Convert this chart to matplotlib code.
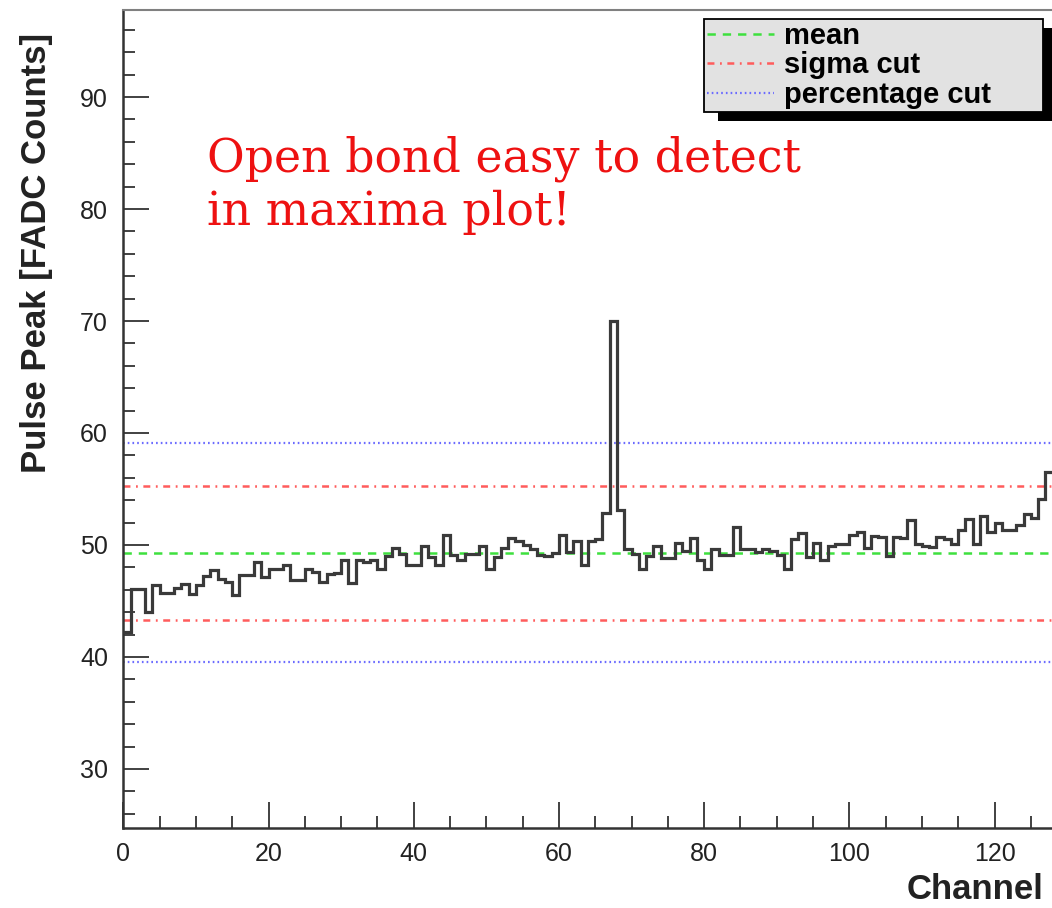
import numpy as np
import matplotlib
matplotlib.use('Agg')
import matplotlib.pyplot as plt
from matplotlib.patches import Rectangle
from matplotlib.ticker import MultipleLocator

plt.rcParams['font.family'] = ['Liberation Sans', 'DejaVu Sans']
plt.rcParams['lines.scale_dashes'] = False

# maximum pulse per channel
pulse_peak = [
    42.2, 46.1, 46.1, 44.0, 46.4, 45.7, 45.7, 46.2, 46.5, 45.6,
    46.4, 47.2, 47.8, 47.0, 46.7, 45.5, 47.3, 47.3, 48.5, 47.1,
    47.9, 47.9, 48.2, 46.9, 46.9, 47.9, 47.6, 46.7, 47.4, 47.5,
    48.7, 46.6, 48.7, 48.5, 48.7, 47.9, 49.0, 49.7, 49.2, 48.2,
    48.2, 49.9, 48.9, 48.2, 50.9, 49.1, 48.7, 49.2, 49.2, 49.9,
    47.9, 48.9, 49.7, 50.6, 50.4, 50.0, 49.6, 49.1, 49.0, 49.3,
    50.9, 49.4, 50.4, 48.2, 50.4, 50.5, 52.9, 70.0, 53.1, 49.6,
    49.2, 47.9, 49.0, 49.9, 48.8, 48.8, 50.2, 49.5, 50.6, 48.7,
    47.9, 49.6, 49.1, 49.1, 51.6, 49.6, 49.6, 49.4, 49.6, 49.5,
    49.1, 47.9, 50.5, 51.1, 48.9, 50.2, 48.7, 49.9, 50.1, 50.1,
    50.9, 51.2, 49.7, 50.8, 50.7, 49.0, 50.7, 50.6, 52.2, 50.1,
    49.9, 49.8, 50.7, 50.5, 50.1, 51.3, 52.3, 50.1, 52.6, 51.2,
    52.0, 51.3, 51.3, 51.8, 52.8, 52.4, 54.1, 56.5,
]
mean_level = 49.3
sigma_cut = [43.3, 55.3]
percentage_cut = [39.55, 59.1]

W, H = 1052, 908
fig = plt.figure(figsize=(W / 100, H / 100), dpi=100)
fig.patch.set_facecolor('white')

# osie ustawione w pikselach jak na oryginale
ax = fig.add_axes([123.3 / W, 1 - 828 / H, 929.3 / W, 818 / H])
ax.patch.set_visible(False)

edges = np.arange(len(pulse_peak) + 1)
ax.stairs(pulse_peak, edges, baseline=None, color='#3a3a3a', lw=2.3, zorder=3)

green, red, blue = '#3ee03e', '#ff5c5c', '#6b6bff'
ax.axhline(mean_level, color=green, lw=1.8, ls=(0, (6, 5)), label='mean', zorder=2)
for i, y in enumerate(sigma_cut):
    ax.axhline(y, color=red, lw=1.8, ls=(0, (5, 4, 1.3, 4)),
               label='sigma cut' if i == 0 else None, zorder=2)
for i, y in enumerate(percentage_cut):
    ax.axhline(y, color=blue, lw=1.6, ls=(0, (1.2, 2.2)),
               label='percentage cut' if i == 0 else None, zorder=2)

ax.set_xlim(0, 128)
ax.set_ylim(24.73, 97.77)
ax.set_xticks(range(0, 121, 20))
ax.set_yticks(range(30, 91, 10))
ax.xaxis.set_minor_locator(MultipleLocator(5))
ax.yaxis.set_minor_locator(MultipleLocator(2))
ax.tick_params(which='both', direction='in', color='#333333', width=1.3,
               labelsize=18, labelcolor='#222222')
ax.tick_params(which='major', length=18.5)
ax.tick_params(which='minor', length=8.5)
ax.tick_params(axis='y', pad=11)
ax.tick_params(axis='x', pad=10)

for s in ['left', 'bottom']:
    ax.spines[s].set_color('#333333')
    ax.spines[s].set_linewidth(1.8)
ax.spines['top'].set_color('#808080')
ax.spines['top'].set_linewidth(1.5)
ax.spines['right'].set_visible(False)

fig.text(37 / W, 1 - 33 / H, 'Pulse Peak [FADC Counts]', rotation=90,
         ha='center', va='top', fontsize=25, fontweight='bold', color='#222222')
fig.text(1044 / W, 1 - 899 / H, 'Channel', ha='right', va='baseline',
         fontsize=25, fontweight='bold', color='#222222')

fig.text(207 / W, 1 - 136 / H, 'Open bond easy to detect\nin maxima plot!',
         family='DejaVu Serif', color='#ee1111', fontsize=33,
         ha='left', va='top', linespacing=1.2)

leg = ax.legend(loc='upper left', mode='expand',
                bbox_to_anchor=(704 / W, 1 - 110 / H, 339 / W, 91 / H),
                bbox_transform=fig.transFigure,
                prop={'weight': 'bold', 'size': 21},
                frameon=True, fancybox=False, framealpha=1,
                facecolor='#e2e2e2', edgecolor='black',
                borderpad=0.1, labelspacing=0.05, handlelength=2.3,
                handletextpad=0.35, borderaxespad=0)
leg.get_frame().set_linewidth(1.3)

# cien legendy (styl ROOT)
fig.canvas.draw()
bb = leg.get_window_extent()
shadow = Rectangle((bb.x0 + 14, bb.y0 - 9), bb.width, bb.height,
                   transform=None, facecolor='black', edgecolor='none', zorder=-1)
fig.add_artist(shadow)

fig.savefig('out.png', dpi=100)
